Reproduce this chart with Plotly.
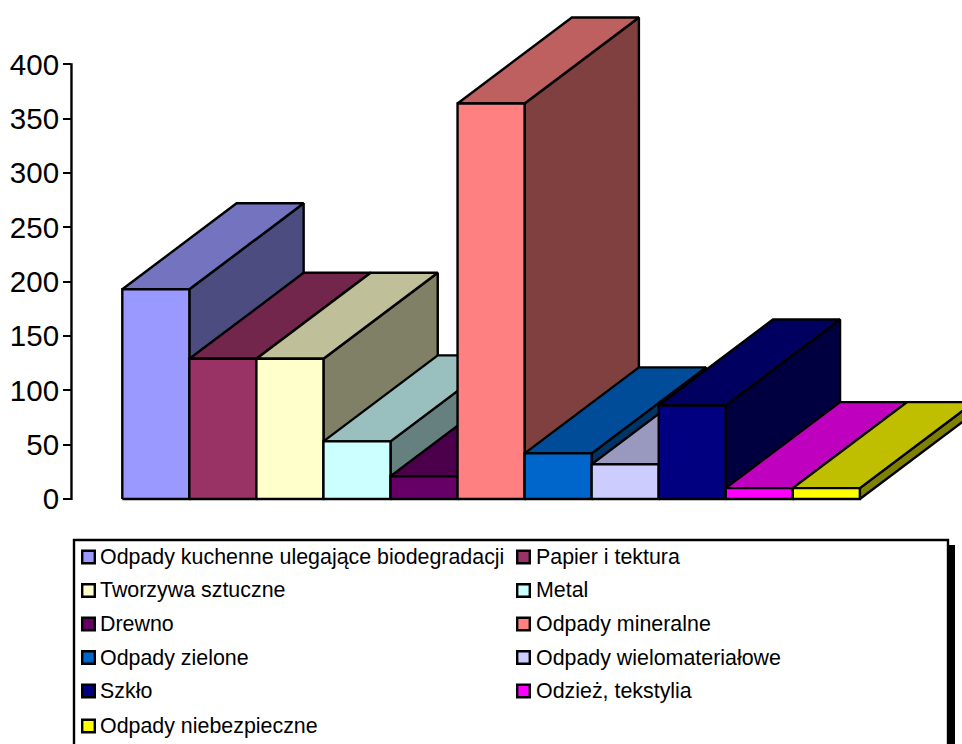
import plotly.graph_objects as go

categories = ["Odpady kuchenne ulegające biodegradacji", "Papier i tektura", "Tworzywa sztuczne", "Metal",
              "Drewno", "Odpady mineralne", "Odpady zielone", "Odpady wielomateriałowe",
              "Szkło", "Odzież, tekstylia", "Odpady niebezpieczne"]
values = [193, 129, 129, 53, 21, 364, 42, 32, 86, 10, 10]
colors = ["#9999FF", "#993366", "#FFFFCC", "#CCFFFF", "#660066", "#FF8080",
          "#0066CC", "#CCCCFF", "#000080", "#FF00FF", "#FFFF00"]
y_ticks = [0, 50, 100, 150, 200, 250, 300, 350, 400]

W, H = 962, 744
L, B_PX = 72, 510
PPX = 67.05     # px per category
PPY = 1.0867    # px per value unit
Y0_PX = 499
X0_PX = 122.3
DX = 114.3 / PPX
DY = 86 / PPY


def shade(hex_color, k):
    r, g, b = (int(hex_color[i:i + 2], 16) for i in (1, 3, 5))
    return f"rgb({round(r * k)},{round(g * k)},{round(b * k)})"


def paper_x(px):
    return (px - L) / (W - L)


def paper_y(py):
    return (B_PX - py) / B_PX


fig = go.Figure()


def face(xs, ys, color, name):
    fig.add_trace(go.Scatter(x=xs, y=ys, mode="lines", fill="toself", fillcolor=color,
                             line=dict(color="black", width=2.4), name=name,
                             showlegend=False, hoverinfo="name"))


for i, (name, v, c) in enumerate(zip(categories, values, colors)):
    x0, x1 = i, i + 1
    face([x1, x1 + DX, x1 + DX, x1, x1], [0, DY, v + DY, v, 0], shade(c, 0.5), name)
    face([x0, x1, x1 + DX, x0 + DX, x0], [v, v, v + DY, v + DY, v], shade(c, 0.75), name)
    face([x0, x1, x1, x0, x0], [0, 0, v, v, 0], c, name)

shapes = [dict(type="line", xref="paper", yref="y", x0=-0.0006, x1=-0.0006, y0=-1, y1=401,
               line=dict(color="black", width=2.4)),
          dict(type="rect", xref="paper", yref="paper", x0=paper_x(948), x1=paper_x(955),
               y0=paper_y(760), y1=paper_y(545), fillcolor="black", line=dict(width=0)),
          dict(type="rect", xref="paper", yref="paper", x0=paper_x(74), x1=paper_x(948),
               y0=paper_y(760), y1=paper_y(540), fillcolor="white", line=dict(color="black", width=2.4))]
annotations = []
row_y = [557, 590.5, 624, 657.5, 691, 726]
col_x = [81, 516]
col_text = [97.5, 533.5]
for i, (name, c) in enumerate(zip(categories, colors)):
    px, py = col_x[i % 2], row_y[i // 2]
    shapes.append(dict(type="rect", xref="paper", yref="paper", x0=paper_x(px + 1.2), x1=paper_x(px + 13.8),
                       y0=paper_y(py + 6.3), y1=paper_y(py - 6.3), fillcolor=c,
                       line=dict(color="black", width=2.4)))
    annotations.append(dict(xref="paper", yref="paper", x=paper_x(col_text[i % 2]), y=paper_y(py), text=name,
                            showarrow=False, xanchor="left", yanchor="middle",
                            font=dict(family="Liberation Sans", size=21.4, color="black")))

fig.update_layout(
    width=W, height=H, margin=dict(l=L, r=0, t=0, b=H - B_PX, pad=0),
    paper_bgcolor="white", plot_bgcolor="white", showlegend=False,
    shapes=shapes, annotations=annotations,
    xaxis=dict(range=[(L - X0_PX) / PPX, (W - X0_PX) / PPX], visible=False, fixedrange=True),
    yaxis=dict(range=[(Y0_PX - B_PX) / PPY, Y0_PX / PPY], tickmode="array", tickvals=y_ticks,
               ticks="outside", ticklen=8, tickwidth=2.2, tickcolor="black", showgrid=False,
               zeroline=False, showline=False, fixedrange=True, ticklabelstandoff=-2,
               tickfont=dict(family="Liberation Sans", size=29.5, color="black")),
)
fig.write_html("out.html", config=dict(displayModeBar=False),
               post_script="document.body.style.margin='0';")
